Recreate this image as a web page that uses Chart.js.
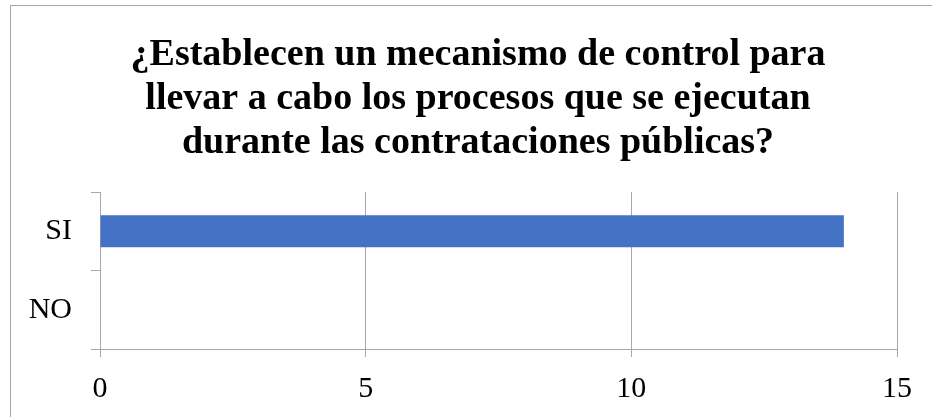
<!DOCTYPE html>
<html lang="es">
<head>
    <meta charset="UTF-8">
    <title>Mecanismo de control</title>
    <style>
        body { margin: 0; background: #fff; }
        .frame {
            position: absolute; left: 10px; top: 5px;
            width: 940px; height: 430px;
            border: 1px solid #a6a6a6;
            box-sizing: border-box;
        }
        .wrap { position: absolute; left: 0; top: 0; width: 932px; height: 417px; }
    </style>
</head>
<body>
    <div class="frame"></div>
    <div class="wrap">
        <canvas id="myChart" width="932" height="417"></canvas>
    </div>

<script src="https://cdn.jsdelivr.net/npm/chart.js"></script>
<script>
    const categorias = ['SI', 'NO'];
    const valores = [14, 0];
    const tituloLineas = [
        '¿Establecen un mecanismo de control para',
        'llevar a cabo los procesos que se ejecutan',
        'durante las contrataciones públicas?'
    ];

    const gris = '#a8a8a8';
    const serif = "'Liberation Serif', 'Times New Roman', serif";

    // el título del original va algo corrido a la derecha
    const centrarTitulo = {
        id: 'centrarTitulo',
        afterLayout(chart) {
            if (chart.titleBlock) chart.titleBlock.left = 59;
        }
    };

    new Chart(document.getElementById('myChart'), {
        type: 'bar',
        data: {
            labels: categorias,
            datasets: [{
                data: valores,
                backgroundColor: '#4472c4',
                categoryPercentage: 0.5,
                barPercentage: 0.82
            }]
        },
        options: {
            indexAxis: 'y',
            responsive: false,
            animation: false,
            layout: { padding: { left: 0, right: 35, top: 0, bottom: 0 } },
            plugins: {
                legend: { display: false },
                tooltip: { enabled: false },
                title: {
                    display: true,
                    text: tituloLineas,
                    color: '#000',
                    font: { family: serif, size: 38, weight: 'bold', lineHeight: 1.158 },
                    padding: { top: 33, bottom: 27 }
                }
            },
            scales: {
                x: {
                    min: 0,
                    max: 15,
                    ticks: { stepSize: 5, color: '#000', padding: 14, font: { family: serif, size: 30 } },
                    grid: { color: gris, tickLength: 8 },
                    border: { color: gris },
                    afterFit: function (s) { s.height = 68; }
                },
                y: {
                    offset: true,
                    ticks: { color: '#000', padding: 19, font: { family: serif, size: 30 } },
                    grid: { offset: true, drawOnChartArea: false, color: gris, tickLength: 9 },
                    border: { color: gris },
                    afterFit: function (s) { s.width = 100; }
                }
            }
        },
        plugins: [centrarTitulo]
    });
</script>
</body>
</html>
